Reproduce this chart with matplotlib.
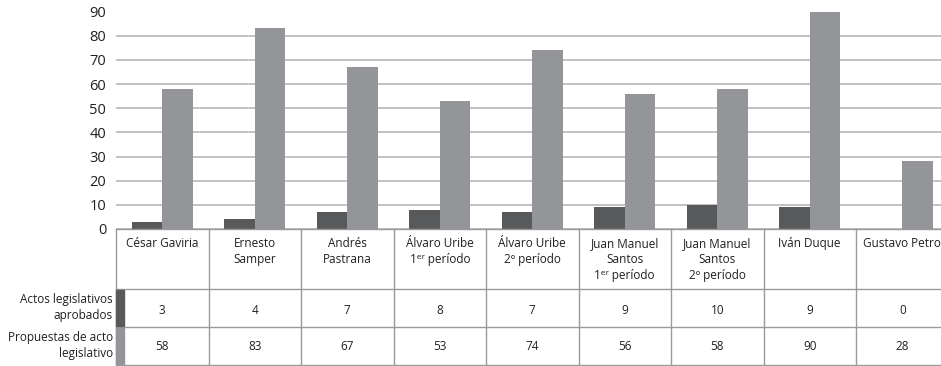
import matplotlib
matplotlib.use("Agg")
import matplotlib.pyplot as plt
import numpy as np

plt.rcParams['font.family'] = ['Open Sans', 'DejaVu Sans']

categories = ["César Gaviria", "Ernesto\nSamper", "Andrés\nPastrana",
              "Álvaro Uribe\n1ᵉʳ período", "Álvaro Uribe\n2º período",
              "Juan Manuel\nSantos\n1ᵉʳ período", "Juan Manuel\nSantos\n2º período",
              "Iván Duque", "Gustavo Petro"]
series_names = ["Actos legislativos\naprobados", "Propuestas de acto\nlegislativo"]
actos = [3, 4, 7, 8, 7, 9, 10, 9, 0]
propuestas = [58, 83, 67, 53, 74, 56, 58, 90, 28]
yticks = [0, 10, 20, 30, 40, 50, 60, 70, 80, 90]

dark = "#58595b"
light = "#939598"
grid_c = "#bdbdbd"
line_c = "#9a9a9a"
txt_c = "#231f20"
fs = 8.5

W, H = 941, 366
fig = plt.figure(figsize=(W / 100, H / 100), dpi=100)

left_px, col_w = 116, 92.5
n = len(categories)
ax_w = col_w * n
top_px, zero_px = 11.5, 229
ax = fig.add_axes([left_px / W, (H - zero_px) / H, ax_w / W, (zero_px - top_px) / H])
x = np.arange(n)
bw = 0.33
ax.bar(x - bw / 2, actos, bw, color=dark, zorder=3)
ax.bar(x + bw / 2, propuestas, bw, color=light, zorder=3)
ax.set_xlim(-0.5, n - 0.5)
ax.set_ylim(0, 90)
ax.set_yticks(yticks)
ax.set_yticklabels([str(v) for v in yticks], fontsize=10.5, color=txt_c)
ax.tick_params(axis='y', length=0, pad=7)
ax.tick_params(axis='x', length=0, labelbottom=False)
ax.yaxis.grid(True, color=grid_c, lw=1.3, zorder=0)
for s in ax.spines.values():
    s.set_visible(False)

# table
tbl_bottom_px = 365
tax = fig.add_axes([left_px / W, (H - tbl_bottom_px) / H, ax_w / W, (tbl_bottom_px - zero_px) / H])
tax.set_xlim(-0.5, n - 0.5)
tax.set_ylim(tbl_bottom_px, zero_px)
tax.axis('off')
hdr_b, r1_b = 289, 327
for yy in [zero_px, hdr_b, r1_b, tbl_bottom_px]:
    tax.plot([-0.5, n - 0.5], [yy, yy], color=line_c, lw=1, clip_on=False)
for i in range(n + 1):
    tax.plot([i - 0.5, i - 0.5], [zero_px, tbl_bottom_px], color=line_c, lw=1, clip_on=False)
for i, c in enumerate(categories):
    tax.text(i, zero_px + 8, c, ha='center', va='top', fontsize=fs, color=txt_c, linespacing=1.3)
    tax.text(i, (hdr_b + r1_b) / 2 + 2, str(actos[i]), ha='center', va='center', fontsize=fs, color=txt_c)
    tax.text(i, (r1_b + tbl_bottom_px) / 2 + 1, str(propuestas[i]), ha='center', va='center', fontsize=fs, color=txt_c)
# swatches
sw = 8 / col_w
tax.add_patch(plt.Rectangle((-0.5, hdr_b + 1), sw, r1_b - hdr_b - 2, color=dark, clip_on=False, zorder=4))
tax.add_patch(plt.Rectangle((-0.5, r1_b + 1), sw, tbl_bottom_px - r1_b - 2, color=light, clip_on=False, zorder=4))
lbl_x = -0.5 - 3 / col_w
tax.text(lbl_x, (hdr_b + r1_b) / 2, series_names[0], ha='right', va='center', fontsize=fs, color=txt_c, linespacing=1.3)
tax.text(lbl_x, (r1_b + tbl_bottom_px) / 2 - 1, series_names[1], ha='right', va='center', fontsize=fs, color=txt_c, linespacing=1.3)

fig.savefig("out.png", dpi=100)
